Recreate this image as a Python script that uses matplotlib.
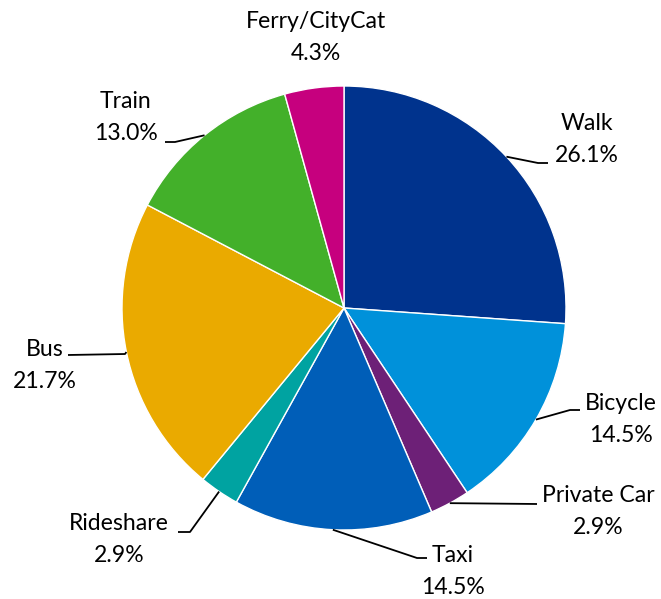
import numpy as np
import matplotlib
matplotlib.use("Agg")
import matplotlib.pyplot as plt

plt.rcParams['font.family'] = ['Lato', 'DejaVu Sans']

# Share of trips by travel mode (%)
modes = ["Walk", "Bicycle", "Private Car", "Taxi", "Rideshare", "Bus", "Train", "Ferry/CityCat"]
shares = [26.1, 14.5, 2.9, 14.5, 2.9, 21.7, 13.0, 4.3]
colors = ["#00338D", "#0091DA", "#6D2077", "#005EB8", "#00A3A1", "#EAAA00", "#43B02A", "#C6007E"]

W, H = 661, 599
fig = plt.figure(figsize=(W / 100, H / 100), dpi=100)
ax = fig.add_axes([0, 0, 1, 1])


def fy(py):
    """Convert a top-down pixel row to the axes' y coordinate."""
    return H - py


cx, cy, r = 344, 308, 222
wedges, _ = ax.pie(shares, colors=colors, startangle=90, counterclock=False,
                   center=(cx, fy(cy)), radius=r,
                   wedgeprops=dict(edgecolor="white", linewidth=1.0))

ax.set_xlim(0, W)
ax.set_ylim(0, H)
ax.set_aspect("equal")
ax.axis("off")

# Label placement (pixel coords, y down): text centre, leader elbow, leader end
layout = {
    "Walk":          dict(text=(587, 140), elbow=(538, 163), end=(548, 163)),
    "Bicycle":       dict(text=(621, 419), elbow=(570, 410), end=(580, 410)),
    "Private Car":   dict(text=(598, 512), elbow=(537, 504), end=(537, 504)),
    "Taxi":          dict(text=(453, 572), elbow=(417, 558), end=(427, 558)),
    "Rideshare":     dict(text=(119, 539), elbow=(190, 532), end=(178, 532)),
    "Bus":           dict(text=(45, 365), elbow=(125, 354), end=(68, 355)),
    "Train":         dict(text=(126, 117), elbow=(175, 142), end=(165, 142)),
    "Ferry/CityCat": dict(text=(316, 37), elbow=None, end=None),
}

fs = 16.6
for w, name, val in zip(wedges, modes, shares):
    lay = layout[name]
    tx, ty = lay["text"]
    ax.text(tx, fy(ty - 16), name, ha="center", va="center", fontsize=fs, color="black")
    ax.text(tx, fy(ty + 16), f"{val:.1f}%", ha="center", va="center", fontsize=fs, color="black")
    if lay["elbow"] is not None:
        ang = np.deg2rad((w.theta1 + w.theta2) / 2)
        sx = cx + r * np.cos(ang)
        sy = fy(cy) + r * np.sin(ang)
        ex, ey = lay["elbow"]
        nx, ny = lay["end"]
        ax.plot([sx, ex, nx], [sy, fy(ey), fy(ny)], color="black", lw=1.3,
                solid_capstyle="butt", zorder=3)

fig.savefig("out.png", dpi=100, facecolor="white")
